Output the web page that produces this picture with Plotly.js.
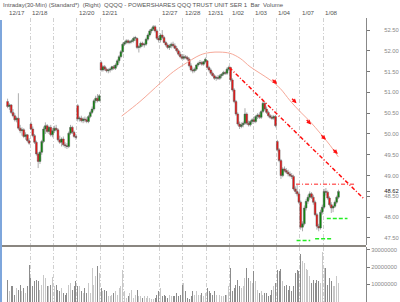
<!DOCTYPE html>
<html><head><meta charset="utf-8">
<script src="https://cdn.plot.ly/plotly-3.0.1.min.js"></script>
<style>html,body{margin:0;padding:0;background:#fff}#chart{width:400px;height:302px}</style>
</head><body><div id="chart"></div>
<script>
// ---- data ----
const days = ['12/17','12/18','12/19','12/20','12/21','12/24','12/26','12/27','12/28','12/31','1/02','1/03','1/04','1/07','1/08'];
const barsPerDay = [13,13,13,13,13,7,13,13,13,13,13,13,13,13,9];
const dayLabels = ['12/17','12/18','','12/20','12/21','','','12/27','12/28','12/31','1/02','1/03','1/04','1/07','1/08'];
const gridDays = ['12/18','12/19','12/20','12/21','12/24','12/27','12/28','12/31','1/02','1/03','1/04','1/07','1/08'];

const openP = [
50.78,50.66,50.70,50.52,50.44,50.34,50.38,50.14,50.08,50.10,49.94,49.98,49.84,
50.24,50.12,49.96,49.80,49.52,49.34,49.56,49.82,50.12,50.20,50.06,50.16,49.98,
50.08,50.14,50.10,49.86,49.80,49.88,49.74,49.72,49.70,50.02,50.16,50.04,49.94,
50.68,50.36,50.38,50.32,50.36,50.34,50.30,50.42,50.52,50.60,50.80,50.86,50.80,
51.72,51.54,51.62,51.56,51.52,51.54,51.56,51.62,51.58,51.66,51.76,51.86,51.98,
52.16,52.20,52.24,52.20,52.22,52.24,52.30,
52.30,52.08,52.10,52.18,52.14,52.16,52.28,52.38,52.48,52.52,52.58,52.48,52.30,
52.26,52.38,52.32,52.20,52.14,52.08,52.12,52.16,52.12,52.06,52.00,51.92,51.86,
51.82,51.86,51.84,51.80,51.64,51.54,51.52,51.56,51.66,51.70,51.72,51.68,51.74,
51.76,51.60,51.54,51.46,51.40,51.34,51.36,51.34,51.40,51.44,51.48,51.46,51.56,
51.60,51.30,51.06,50.78,50.48,50.24,50.18,50.22,50.26,50.48,50.26,50.22,50.30,
50.34,50.30,50.42,50.46,50.40,50.54,50.74,50.60,50.52,50.44,50.40,50.38,50.42,
49.82,49.62,49.36,49.00,49.16,49.12,49.08,49.04,49.00,48.98,48.68,48.62,48.56,
48.36,47.76,47.84,48.22,48.38,48.48,48.56,48.48,48.36,48.06,47.78,47.74,48.12,
48.24,48.62,48.60,48.46,48.30,48.22,48.26,48.36,48.48];
const highP = [
50.85,50.74,50.72,50.60,50.50,50.42,50.98,50.22,50.16,50.14,50.04,50.00,49.90,
50.30,50.18,50.00,49.84,49.56,49.60,49.86,50.18,50.28,50.24,50.20,50.22,50.14,
50.20,50.22,50.14,49.96,49.92,49.94,49.80,49.78,50.06,50.22,50.20,50.08,50.00,
50.72,50.42,50.44,50.40,50.42,50.40,50.46,50.56,50.66,50.84,50.92,50.96,50.96,
51.76,51.66,51.66,51.60,51.58,51.60,51.64,51.66,51.70,51.80,51.90,52.02,52.20,
52.24,52.28,52.28,52.26,52.28,52.34,52.36,
52.32,52.14,52.22,52.22,52.20,52.32,52.42,52.52,52.56,52.62,52.62,52.52,52.36,
52.42,52.50,52.36,52.24,52.18,52.16,52.20,52.22,52.18,52.12,52.04,51.98,51.92,
51.92,51.90,51.88,51.84,51.70,51.60,51.60,51.68,51.74,51.78,51.76,51.76,51.84,
51.78,51.64,51.58,51.50,51.44,51.40,51.42,51.44,51.46,51.52,51.52,51.60,51.64,
51.62,51.34,51.10,50.82,50.52,50.30,50.28,50.30,50.62,50.52,50.32,50.34,50.38,
50.42,50.46,50.50,50.52,50.58,50.80,50.78,50.66,50.56,50.48,50.46,50.46,50.46,
49.86,49.66,49.40,49.20,49.22,49.18,49.14,49.10,49.06,49.02,48.74,48.80,48.60,
48.40,47.90,48.28,48.44,48.54,48.62,48.60,48.54,48.40,48.10,47.84,48.18,48.30,
48.68,48.70,48.64,48.50,48.36,48.30,48.40,48.52,48.66];
const lowP = [
50.62,50.58,50.48,50.40,50.30,50.28,50.10,50.02,49.96,49.90,49.86,49.80,49.74,
50.10,49.92,49.76,49.48,49.18,49.28,49.50,49.78,50.00,50.02,50.00,49.94,49.92,
50.02,50.06,49.82,49.76,49.70,49.70,49.66,49.64,49.66,49.98,50.00,49.90,49.86,
50.30,50.30,50.28,50.26,50.28,50.26,50.26,50.38,50.48,50.56,50.74,50.76,50.78,
51.50,51.50,51.52,51.48,51.46,51.48,51.52,51.54,51.54,51.62,51.70,51.82,51.94,
52.12,52.16,52.16,52.16,52.18,52.20,52.24,
52.04,51.96,52.06,52.10,52.08,52.12,52.24,52.34,52.42,52.48,52.44,52.26,52.20,
52.20,52.28,52.18,52.10,52.04,52.02,52.06,52.08,52.04,51.96,51.88,51.82,51.78,
51.78,51.80,51.76,51.60,51.50,51.46,51.48,51.52,51.62,51.66,51.64,51.64,51.70,
51.56,51.50,51.42,51.38,51.30,51.28,51.30,51.30,51.34,51.40,51.42,51.42,51.52,
51.26,51.02,50.74,50.44,50.20,50.12,50.14,50.16,50.22,50.22,50.18,50.18,50.24,
50.26,50.26,50.36,50.36,50.36,50.50,50.56,50.48,50.40,50.36,50.34,50.34,50.16,
49.58,49.32,48.92,48.96,49.08,49.04,48.98,48.96,48.92,48.64,48.56,48.50,48.32,
47.70,47.66,47.80,48.16,48.32,48.42,48.44,48.30,48.02,47.70,47.66,47.70,48.06,
48.20,48.52,48.42,48.26,48.10,48.12,48.22,48.32,48.44];
const closeP = [
50.66,50.70,50.52,50.44,50.34,50.38,50.14,50.08,50.10,49.94,49.98,49.84,49.78,
50.12,49.96,49.80,49.52,49.34,49.56,49.82,50.12,50.20,50.06,50.16,49.98,50.08,
50.14,50.10,49.86,49.80,49.88,49.74,49.72,49.70,50.02,50.16,50.04,49.94,49.92,
50.36,50.38,50.32,50.36,50.34,50.30,50.42,50.52,50.60,50.80,50.86,50.80,50.92,
51.54,51.62,51.56,51.52,51.54,51.56,51.62,51.58,51.66,51.76,51.86,51.98,52.16,
52.20,52.24,52.20,52.22,52.24,52.30,52.32,
52.08,52.10,52.18,52.14,52.16,52.28,52.38,52.48,52.52,52.58,52.48,52.30,52.26,
52.38,52.32,52.20,52.14,52.08,52.12,52.16,52.12,52.06,52.00,51.92,51.86,51.82,
51.86,51.84,51.80,51.64,51.54,51.52,51.56,51.66,51.70,51.72,51.68,51.74,51.80,
51.60,51.54,51.46,51.40,51.34,51.36,51.34,51.40,51.44,51.48,51.46,51.56,51.60,
51.30,51.06,50.78,50.48,50.24,50.18,50.22,50.26,50.48,50.26,50.22,50.30,50.34,
50.30,50.42,50.46,50.40,50.54,50.74,50.60,50.52,50.44,50.40,50.38,50.42,50.20,
49.62,49.36,49.00,49.16,49.12,49.08,49.04,49.00,48.98,48.68,48.62,48.56,48.36,
47.76,47.84,48.22,48.38,48.48,48.56,48.48,48.36,48.06,47.78,47.74,48.12,48.24,
48.62,48.60,48.46,48.30,48.22,48.26,48.36,48.48,48.62];
// volume in millions of shares
const volumeM = [
12.7,6.0,8.9,9.2,4.0,7.9,6.9,9.8,6.0,7.9,5.0,8.9,21.4,
13.7,8.9,11.8,12.7,11.8,6.9,9.8,15.6,13.7,8.9,8.9,9.8,14.3,
8.9,9.8,6.9,6.0,7.9,5.0,4.0,5.0,9.8,10.8,6.9,8.9,11.8,
8.9,9.2,6.0,5.0,7.9,5.0,10.8,5.0,19.5,9.8,14.6,20.8,16.6,
7.9,6.0,6.9,6.0,3.1,3.1,4.0,5.0,6.0,4.0,7.9,8.9,18.5,
6.0,2.1,3.1,5.0,6.9,2.1,4.0,
6.9,3.1,3.1,2.1,3.1,2.1,3.1,2.1,1.5,1.5,2.1,4.0,6.0,
7.9,3.1,4.0,3.1,2.1,4.0,3.1,3.5,3.1,5.0,3.1,4.0,9.8,
10.8,6.0,2.1,1.5,3.1,6.0,4.0,6.0,4.0,4.0,5.0,3.1,5.0,
7.9,6.0,5.0,4.0,6.0,4.0,5.0,4.0,3.1,3.5,4.0,4.0,8.9,
19.5,6.0,7.9,9.8,12.7,8.9,7.9,8.9,13.7,19.5,13.7,11.8,10.8,
17.5,11.8,6.9,5.0,6.0,4.0,5.0,5.0,3.1,4.0,6.9,8.9,10.8,
18.5,17.5,18.9,11.8,8.9,9.8,6.9,8.9,6.0,8.9,16.6,18.5,17.5,
27.6,23.3,22.4,18.9,18.5,14.6,10.8,12.7,10.8,12.7,11.8,10.8,28.5,
19.5,19.5,9.8,13.7,11.8,8.9,8.9,14.6,10.8];

// smooth overlay curve (bar position, price)
const curveBar = [63.4,73.6,84.8,92.2,97.7,107.1,112.6,118.1,123.7,129.3,134.8,140.4,146,151.5,157.1,162.6,168.2,173.8,179.3,183.9];
const curvePrice = [50.43,50.78,51.22,51.50,51.66,51.90,51.96,51.97,51.94,51.82,51.62,51.46,51.30,51.10,50.80,50.54,50.30,50.02,49.73,49.45];
const arrowBar = [149.8,160.7,168.8,177.0,183.6];
const arrowPrice = [51.20,50.74,50.23,49.86,49.52];
// trend line
const trendBar = [123.3,197.7];
const trendPrice = [51.60,48.46];
// resistance
const resBar = [160.4,193.2];
const resPrice = [48.79,48.79];
// supports
const sup1Bar = [160.7,168.3], sup1Price = [47.44,47.44];
const sup2Bar = [171.0,181.0], sup2Price = [47.48,47.48];
const sup3Bar = [177.5,189.0], sup3Price = [47.97,47.97];

const priceTicks = [52.5,52.0,51.5,51.0,50.5,50.0,49.5,49.0,48.5,48.0,47.5];
const lastPrice = 48.62;
const volTicks = [10000000,20000000,30000000];

// ---- build ----
const idx = openP.map((_, i) => i);
const dayStart = [];
let acc = 0;
barsPerDay.forEach(n => { dayStart.push(acc); acc += n; });
const gridVals = gridDays.map(d => dayStart[days.indexOf(d)] - 0.5);
const volColors = idx.map(i => closeP[i] >= openP[i] ? '#c8c8c8' : '#8c8c8c');

const fmt = v => v.toFixed(2);
const tickVals = priceTicks.concat([lastPrice]);
const tickText = priceTicks.map(fmt).concat(['<span style="color:#222">' + fmt(lastPrice) + '</span>']);
const FONT = 'Liberation Sans, Arial, sans-serif';

const traces = [
  {type:'bar', x: idx, y: volumeM.map(v => v*1e6), xaxis:'x', yaxis:'y2',
   marker:{color: volColors, line:{width:0}}, width:0.55, hoverinfo:'skip'},
  {type:'scatter', mode:'lines', x: curveBar, y: curvePrice, xaxis:'x', yaxis:'y',
   line:{color:'#f6a898', width:1, shape:'spline'}, hoverinfo:'skip'},
  {type:'candlestick', x: idx, open: openP, high: highP, low: lowP, close: closeP, xaxis:'x', yaxis:'y',
   increasing:{line:{color:'#5a5a5a', width:0.5}, fillcolor:'#078a07'},
   decreasing:{line:{color:'#5a5a5a', width:0.5}, fillcolor:'#f41010'},
   whiskerwidth:0, hoverinfo:'skip'},
  {type:'scatter', mode:'lines', x: trendBar, y: trendPrice, yaxis:'y',
   line:{color:'#ff1010', width:1.5, dash:'4px,2px,1px,2px'}, hoverinfo:'skip'},
  {type:'scatter', mode:'lines', x: resBar, y: resPrice, yaxis:'y',
   line:{color:'#ff6a6a', width:1.5, dash:'4px,2px,1px,2px'}, hoverinfo:'skip'},
  {type:'scatter', mode:'lines', x: sup1Bar, y: sup1Price, yaxis:'y',
   line:{color:'#22ee22', width:1.5, dash:'4px,2px'}, hoverinfo:'skip'},
  {type:'scatter', mode:'lines', x: sup2Bar, y: sup2Price, yaxis:'y',
   line:{color:'#22ee22', width:1.5, dash:'4px,2px'}, hoverinfo:'skip'},
  {type:'scatter', mode:'lines', x: sup3Bar, y: sup3Price, yaxis:'y',
   line:{color:'#22ee22', width:1.5, dash:'4px,2px'}, hoverinfo:'skip'}
];

const annotations = [];
annotations.push({xref:'paper', yref:'paper', x:-0.003, y:0.983, xanchor:'left', yanchor:'middle',
  text:'Intraday(30-Min) (Standard*)  (Right)  QQQQ - POWERSHARES QQQ TRUST UNIT SER 1  Bar  Volume',
  showarrow:false, font:{family:FONT, size:6.0, color:'#555'}});
days.forEach((d, k) => {
  if (!dayLabels[k]) return;
  annotations.push({xref:'x', yref:'paper', x: dayStart[k] - 0.5, y:0.957, xanchor:'left', yanchor:'middle',
    text: dayLabels[k], showarrow:false, font:{family:FONT, size:6.2, color:'#555'}});
});
arrowBar.forEach((b, k) => {
  annotations.push({xref:'x', yref:'y', x:b, y:arrowPrice[k], ax:-6, ay:-6, text:'', showarrow:true,
    arrowhead:2, arrowsize:0.7, arrowwidth:1.3, arrowcolor:'#ff1010'});
});

const layout = {
  width:400, height:302,
  margin:{l:2, r:34, t:0, b:0},
  paper_bgcolor:'#ffffff', plot_bgcolor:'#ffffff',
  showlegend:false, bargap:0, boxgap:0, boxgroupgap:0,
  font:{family:FONT, size:6.2, color:'#777'},
  xaxis:{range:[-3.11,199.3], anchor:'y2', showticklabels:false, ticks:'',
    tickmode:'array', tickvals: gridVals, showgrid:true, gridcolor:'#d0d0d0', gridwidth:1,
    griddash:'4px,2px,1px,2px', zeroline:false, showline:false, rangeslider:{visible:false}, fixedrange:true},
  yaxis:{domain:[0.1887,0.9404], range:[47.33,52.79], side:'right', anchor:'x',
    tickmode:'array', tickvals: tickVals, ticktext: tickText, ticks:'outside', ticklen:3, tickcolor:'#777',
    ticklabelstandoff:13, showgrid:false, zeroline:false, showline:true, linecolor:'#888', linewidth:1,
    tickfont:{family:FONT, size:5.8, color:'#888'}},
  yaxis2:{domain:[0,0.1821], range:[-0.17e6,31.62e6], side:'right', anchor:'x',
    tickmode:'array', tickvals: volTicks, ticktext: volTicks.map(String), ticks:'outside', ticklen:3, tickcolor:'#777',
    ticklabelstandoff:0, showgrid:false, zeroline:false, showline:true, linecolor:'#888', linewidth:1,
    tickfont:{family:FONT, size:5.8, color:'#888'}},
  shapes:[
    {type:'line', xref:'paper', yref:'paper', x0:0, x1:1, y0:0.1854, y1:0.1854, line:{color:'#8a8680', width:2}},
    {type:'rect', xref:'paper', yref:'paper', x0:-0.0055, x1:0, y0:0, y1:0.934, fillcolor:'#7ea6dc', line:{width:0}}
  ],
  annotations: annotations
};

Plotly.newPlot('chart', traces, layout, {staticPlot:true, displayModeBar:false});
</script>
</body></html>
